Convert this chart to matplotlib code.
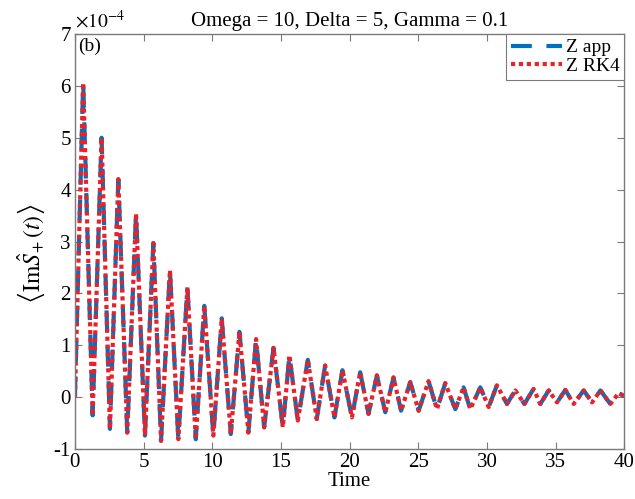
#!/usr/bin/env python3
"""Damped <Im S+(t)> oscillation, Z app vs Z RK4 (values read off the reference)."""
import numpy as np
import matplotlib
matplotlib.use("Agg")
import matplotlib.pyplot as plt

# extrema, values in units of 1e-4
t_peak = [0.6, 1.94, 3.16, 4.45, 5.71, 6.92, 8.19, 9.42, 10.69, 11.98, 13.19,
          14.46, 15.62, 16.96, 18.22, 19.48, 20.77, 21.99, 23.2, 24.42, 25.75,
          26.97, 28.3, 29.52, 30.73, 32.07, 33.4, 34.5, 35.71, 37.05, 38.27, 39.6]
z_peak = [6.06, 5.0, 4.2, 3.54, 2.97, 2.45, 2.12, 1.76, 1.52, 1.26, 1.12,
          0.95, 0.81, 0.72, 0.61, 0.52, 0.48, 0.42, 0.38, 0.29, 0.31,
          0.27, 0.19, 0.19, 0.23, 0.13, 0.16, 0.13, 0.14, 0.13, 0.13, 0.08]
t_trough = [1.29, 2.55, 3.81, 5.1, 6.27, 7.53, 8.8, 10.08, 11.35, 12.63, 13.78,
            15.14, 16.23, 17.61, 18.9, 20.17, 21.38, 22.6, 23.75, 25.03, 26.36,
            27.7, 28.79, 30.13, 31.46, 32.73, 33.89, 35.11, 36.32, 37.66, 38.99]
z_trough = [-0.35, -0.61, -0.68, -0.74, -0.84, -0.81, -0.81, -0.74, -0.71, -0.68, -0.58,
            -0.58, -0.45, -0.42, -0.39, -0.39, -0.32, -0.29, -0.26, -0.26, -0.23,
            -0.23, -0.23, -0.19, -0.13, -0.13, -0.13, -0.1, -0.13, -0.1, -0.13]
t_ends = [0.0, 40.0]
z_ends = [0.0, 0.02]

x_ticks = [0, 5, 10, 15, 20, 25, 30, 35, 40]
y_ticks = [-1, 0, 1, 2, 3, 4, 5, 6, 7]

plt.rcParams["font.family"] = ["Liberation Serif", "DejaVu Serif"]
plt.rcParams["mathtext.fontset"] = "stix"
plt.rcParams["axes.unicode_minus"] = False

BLUE = "#0072BD"
RED = "#E8222B"
AX_GRAY = "#7a7a7a"


def main():
    t = np.concatenate([t_ends, t_peak, t_trough])
    z = np.concatenate([z_ends, z_peak, z_trough])
    order = np.argsort(t)
    t, z = t[order], z[order]

    fig = plt.figure(figsize=(6.35, 4.99), dpi=100)
    ax = fig.add_axes([0.118, 0.1, 0.865, 0.832])

    ax.plot(t, z, color=BLUE, lw=3.0, linestyle=(0, (5, 3.5)), label="Z app")
    ax.plot(t, z, color=RED, lw=3.0, linestyle=(0, (1, 0.9)), label="Z RK4")

    ax.set_xlim(0, 40)
    ax.set_ylim(-1, 7)
    ax.set_xticks(x_ticks)
    ax.set_yticks(y_ticks)
    ax.set_yticklabels([str(v) for v in y_ticks])
    ax.text(0.0, 1.006, r"$\times10^{-4}$", transform=ax.transAxes,
            fontsize=14, ha="left", va="bottom")

    ax.tick_params(direction="in", top=True, right=True, length=5, width=0.8,
                   color=AX_GRAY, labelsize=15, pad=3)
    for sp in ax.spines.values():
        sp.set_color(AX_GRAY)
        sp.set_linewidth(1.0)

    ax.set_xlabel("Time", fontsize=15, labelpad=0)
    ax.set_ylabel(r"$\left\langle \mathrm{Im}\hat{S}_{+}\,(t)\right\rangle$",
                  fontsize=17, labelpad=2)
    ax.yaxis.set_label_coords(-0.05, 0.47)
    ax.set_title("Omega = 10, Delta = 5, Gamma = 0.1", fontsize=15, pad=6)
    ax.text(0.005, 0.99, "(b)", transform=ax.transAxes, fontsize=14,
            ha="left", va="top")

    leg = ax.legend(loc="upper right", borderaxespad=0, fancybox=False,
                    edgecolor=AX_GRAY, framealpha=1, fontsize=14,
                    handlelength=2.6, handletextpad=0.2, labelspacing=0.05,
                    borderpad=0.25)
    leg.get_frame().set_linewidth(0.8)

    fig.savefig("out.png", dpi=100)
    plt.close(fig)


if __name__ == "__main__":
    main()
